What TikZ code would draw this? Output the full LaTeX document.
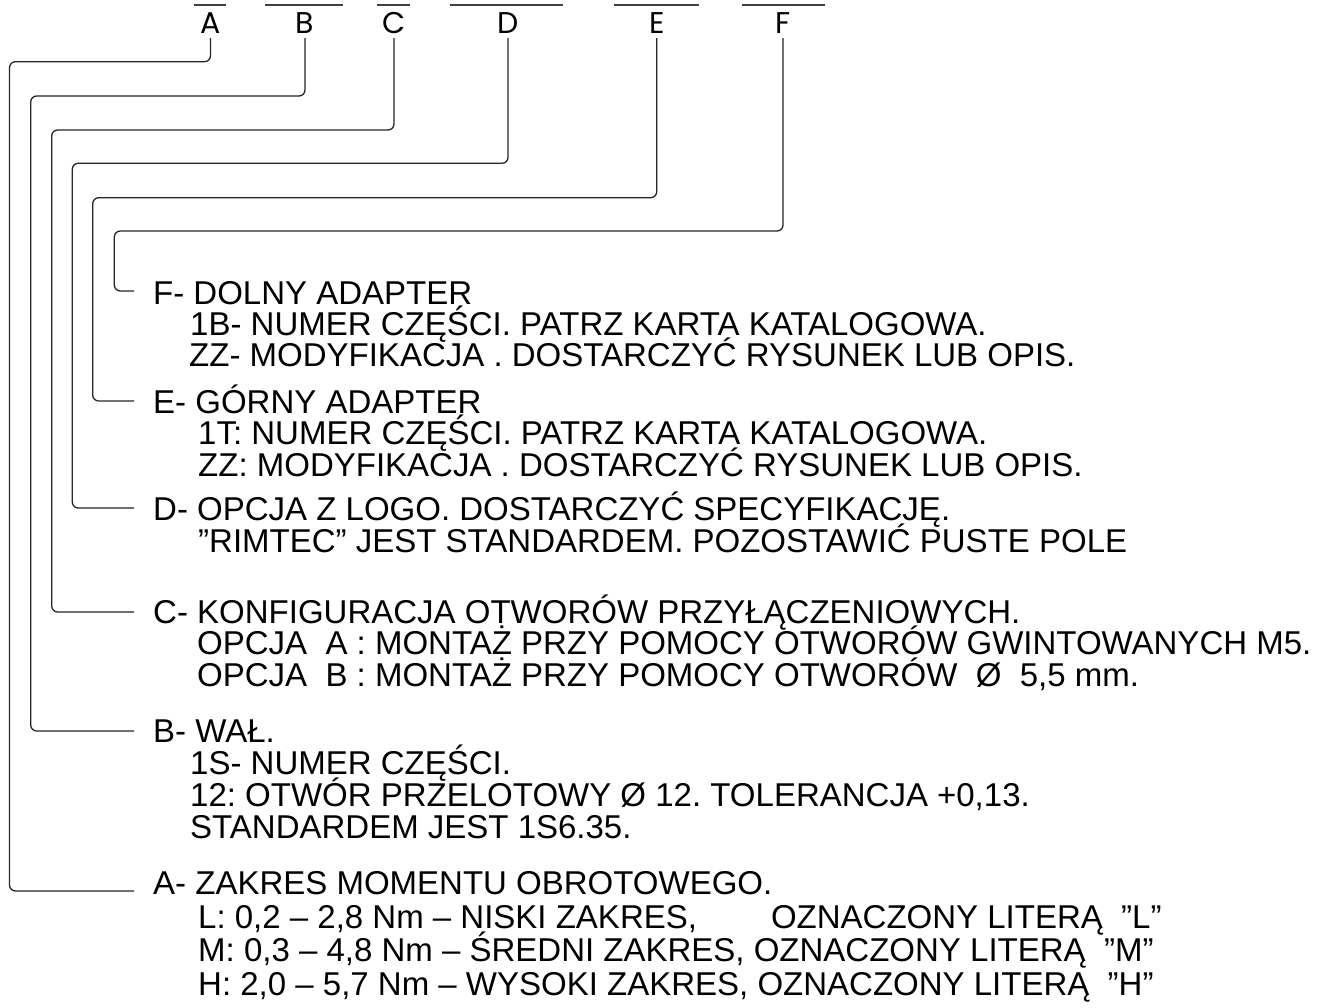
\documentclass[tikz,border=0pt]{standalone}
\usepackage{fontspec}
\setmainfont{Liberation Sans}
\newfontfamily\txtfont{Liberation Sans}
\newfontfamily\letfont{Poppins}
\frenchspacing
\begin{document}
\frenchspacing
\begin{tikzpicture}[x=1pt,y=-1pt,
  txt/.style={anchor=base west, inner sep=0pt, font=\txtfont\fontsize{33}{38}\selectfont},
  letter/.style={anchor=base, inner sep=0pt, font=\letfont\fontsize{30}{34}\selectfont},
  leader/.style={line width=1.3pt, rounded corners=6pt, draw=black!85},
  bar/.style={line width=1.5pt, draw=black!75}]
\useasboundingbox[fill=white] (0,0) rectangle (1320,1007);

% top code letters with blanks
\node[letter] (lA) at (210.5,33.5) {A};
\node[letter] (lB) at (305,33.5) {B};
\node[letter] (lC) at (394,33.5) {C};
\node[letter] (lD) at (508,33.5) {D};
\node[letter] (lE) at (656.7,33.5) {E};
\node[letter] (lF) at (783,33.5) {F};
\draw[bar] (194,5) -- (225.7,5);
\draw[bar] (265,5) -- (343,5);
\draw[bar] (376.7,5) -- (410,5);
\draw[bar] (450,5) -- (563.3,5);
\draw[bar] (614.3,5) -- (699,5);
\draw[bar] (741.7,5) -- (825,5);

% F section
\node[txt] (hF) at (153,304) {F- DOLNY ADAPTER};
\node[txt] (f1) at (190,335) {1B- NUMER CZĘŚCI. PATRZ KARTA KATALOGOWA.};
\node[txt] (f2) at (189,366) {ZZ- MODYFIKACJA . DOSTARCZYĆ RYSUNEK LUB OPIS.};
% E section
\node[txt] (hE) at (153,413) {E- GÓRNY ADAPTER};
\node[txt] (e1) at (198,444) {1T: NUMER CZĘŚCI. PATRZ KARTA KATALOGOWA.};
\node[txt] (e2) at (198,476) {ZZ: MODYFIKACJA . DOSTARCZYĆ RYSUNEK LUB OPIS.};
% D section
\node[txt] (hD) at (153,520) {D- OPCJA Z LOGO. DOSTARCZYĆ SPECYFIKACJĘ.};
\node[txt] (d1) at (198,552) {”RIMTEC” JEST STANDARDEM. POZOSTAWIĆ PUSTE POLE};
% C section
\node[txt] (hC) at (153,623) {C- KONFIGURACJA OTWORÓW PRZYŁĄCZENIOWYCH.};
\node[txt] (c1) at (197,654) {OPCJA\ \ A : MONTAŻ PRZY POMOCY OTWORÓW GWINTOWANYCH M5.};
\node[txt] (c2) at (197,686) {OPCJA\ \ B : MONTAŻ PRZY POMOCY OTWORÓW\ \ Ø\ \ 5,5 mm.};
% B section
\node[txt] (hB) at (153,742) {B- WAŁ.};
\node[txt] (b1) at (190,774) {1S- NUMER CZĘŚCI.};
\node[txt] (b2) at (190,806) {12: OTWÓR PRZELOTOWY Ø 12. TOLERANCJA +0,13.};
\node[txt] (b3) at (190,838) {STANDARDEM JEST 1S6.35.};
% A section
\node[txt] (hA) at (153,894) {A- ZAKRES MOMENTU OBROTOWEGO.};
\node[txt] (a1) at (198,928) {L: 0,2 – 2,8 Nm – NISKI ZAKRES,\hspace{74pt}OZNACZONY LITERĄ\ \ ”L”};
\node[txt] (a2) at (198,961) {M: 0,3 – 4,8 Nm – ŚREDNI ZAKRES, OZNACZONY LITERĄ\ \ ”M”};
\node[txt] (a3) at (198,995) {H: 2,0 – 5,7 Nm – WYSOKI ZAKRES, OZNACZONY LITERĄ\ \ ”H”};

% leader end points
\coordinate (eA) at (134,891);
\coordinate (eB) at (134,731);
\coordinate (eC) at (134,612);
\coordinate (eD) at (134,508);
\coordinate (eE) at (134,401);
\coordinate (eF) at (134,291);

\draw[leader] ([yshift=-4.5pt]lA.base) -- (lA.base |- 0,61.7) -- (9.5,61.7) -- (9.5,891) -- (eA);
\draw[leader] ([yshift=-4.5pt]lB.base) -- (lB.base |- 0,96) -- (30.7,96) -- (30.7,731) -- (eB);
\draw[leader] ([yshift=-4.5pt]lC.base) -- (lC.base |- 0,130) -- (51.7,130) -- (51.7,612) -- (eC);
\draw[leader] ([yshift=-4.5pt]lD.base) -- (lD.base |- 0,163.3) -- (72.3,163.3) -- (72.3,508) -- (eD);
\draw[leader] ([yshift=-4.5pt]lE.base) -- (lE.base |- 0,197.7) -- (92.7,197.7) -- (92.7,401) -- (eE);
\draw[leader] ([yshift=-4.5pt]lF.base) -- (lF.base |- 0,231) -- (114.3,231) -- (114.3,291) -- (eF);
\end{tikzpicture}
\end{document}
